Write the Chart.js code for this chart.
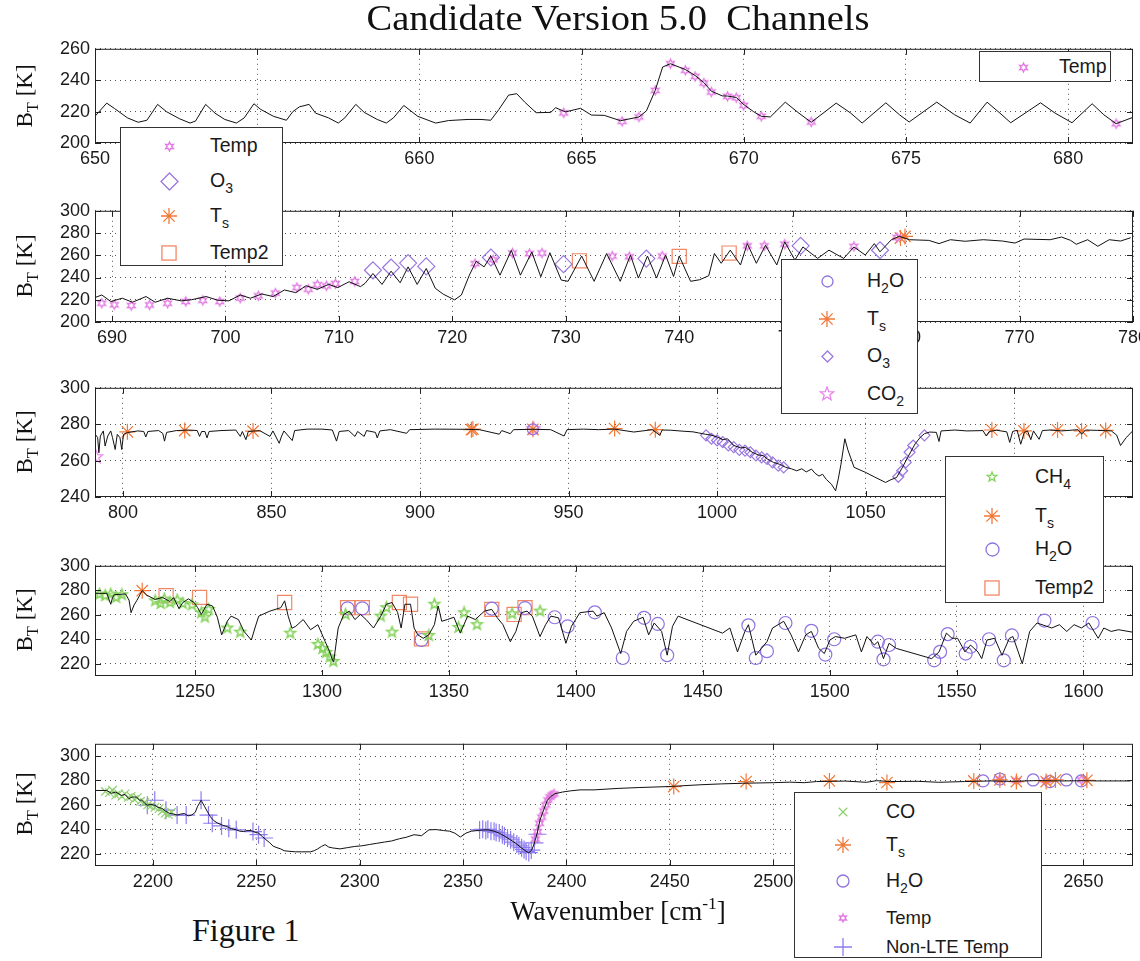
<!DOCTYPE html>
<html>
<head>
<meta charset="utf-8">
<title>Candidate Version 5.0 Channels</title>
<script src="https://cdn.jsdelivr.net/npm/chart.js@4.4.1/dist/chart.umd.min.js"></script>
<style>
  html, body { margin: 0; padding: 0; background: #fff; }
  body { width: 1140px; height: 961px; overflow: hidden; position: relative; font-family: "Liberation Sans", Arial, sans-serif; color: #1a1a1a; }
  canvas { position: absolute; left: 0; }
  .txt { position: absolute; white-space: nowrap; font-family: "Liberation Serif", "Times New Roman", serif; color: #111; line-height: 1; }
  .ylab { font-size: 23px; left: 24px; transform: translate(-50%, -50%) rotate(-90deg); }
  .leg { position: absolute; background: #fff; border: 1px solid #333; box-sizing: border-box; z-index: 5; }
  .leg .m { position: absolute; width: 0; height: 0; }
  .leg .t { position: absolute; font-size: 19.5px; line-height: 1; transform: translateY(-50%); white-space: nowrap; color: #1a1a1a; }
  sub { font-size: 72%; vertical-align: -0.4em; line-height: 0; }
  sup { font-size: 65%; vertical-align: 0.6em; line-height: 0; }
</style>
</head>
<body>
<canvas id="c1"></canvas>
<canvas id="c2"></canvas>
<canvas id="c3"></canvas>
<canvas id="c4"></canvas>
<canvas id="c5"></canvas>

<div class="txt" style="left:618px; top:1px; font-size:35px; transform:translateX(-50%) scaleX(1.1);">Candidate Version 5.0&nbsp; Channels</div>
<div class="txt ylab" style="top:96px;">B<sub>T</sub> [K]</div>
<div class="txt ylab" style="top:266px;">B<sub>T</sub> [K]</div>
<div class="txt ylab" style="top:442px;">B<sub>T</sub> [K]</div>
<div class="txt ylab" style="top:620px;">B<sub>T</sub> [K]</div>
<div class="txt ylab" style="top:804px;">B<sub>T</sub> [K]</div>
<div class="txt" style="left:618px; top:898px; font-size:27px; transform:translateX(-50%);">Wavenumber [cm<sup>-1</sup>]</div>
<div class="txt" style="left:192px; top:914px; font-size:32px;">Figure 1</div>

<script>
// ---------- data ----------
// panel 1: 650-682 cm-1
const p1XTicks = [650, 655, 660, 665, 670, 675, 680];
const p1YTicks = [200, 220, 240, 260];
const p1Spectrum = [[650.0,217],[650.36,225.4],[650.6,222],[651.0,216],[651.33,213.2],[651.6,214.5],[651.93,224.6],[652.2,220],[652.6,215.5],[652.93,212.7],[653.1,214],[653.41,224.6],[653.7,219],[654.0,215],[654.36,212.7],[654.6,216],[654.9,225],[655.1,221.5],[655.5,217],[655.9,214.5],[656.1,220],[656.3,223],[656.6,224.6],[656.8,219],[657.2,216],[657.5,212.7],[657.7,216],[658.04,224.6],[658.3,219.5],[658.7,215],[658.98,212.7],[659.2,216],[659.52,223.9],[659.95,217],[660.5,212.7],[660.9,214.3],[661.5,215],[661.9,215],[662.2,214.5],[662.45,221.3],[662.75,230.5],[663.0,231.4],[663.25,226],[663.6,219.3],[664.05,219.5],[664.2,222.5],[664.5,219.8],[664.97,222.1],[665.3,217.8],[665.7,217.6],[666.2,214.2],[666.77,216.6],[667.0,220.5],[667.27,233.5],[667.5,248.4],[667.74,250.5],[668.2,246.8],[668.5,243],[668.77,238.5],[669.0,233],[669.34,230],[669.5,229.9],[669.77,229],[670.0,224.5],[670.3,220],[670.54,217],[670.82,216.6],[671.28,226],[671.7,219],[672.08,213.2],[672.85,225.4],[673.3,219],[673.65,212.7],[674.38,225.6],[674.8,218],[675.1,213.4],[675.95,226],[676.5,218],[676.98,212.7],[677.5,226],[677.9,219],[678.23,212.9],[679.15,225.6],[679.6,219],[680.12,212.9],[680.74,225],[681.1,218],[681.48,212.3],[681.98,216.2]];
const p1Temp = [[664.45,219.2],[666.25,213.8],[666.77,216.6],[667.27,233.5],[667.74,250.5],[668.2,246.3],[668.5,242.4],[668.77,238.2],[669.0,232.5],[669.5,229.7],[669.77,228.9],[670.0,224.0],[670.54,217.0],[672.08,213.4],[681.48,212.3]];

// panel 2: 688-780 cm-1
const p2XTicks = [690, 700, 710, 720, 730, 740, 750, 760, 770, 780];
const p2YTicks = [200, 220, 240, 260, 280, 300];
const p2Spectrum = [[688.5,222],[689.1,224.3],[689.9,218.4],[690.9,221.4],[691.8,217.8],[693.0,222.9],[693.8,217.8],[694.9,221.4],[696.1,219],[697.0,220],[698.3,222.9],[699.3,219.6],[700.3,219],[701.3,224.3],[702.2,221.4],[703.2,225.2],[704.2,222.9],[705.2,228.8],[706.2,226.4],[707.1,232.6],[708.1,229.4],[709.1,233.8],[709.9,230.9],[710.9,236.2],[711.9,231.8],[712.3,234.7],[713.0,243.6],[713.8,233.8],[714.6,245.7],[715.4,235.3],[716.1,249.6],[716.9,233.8],[717.7,248.1],[718.5,230.3],[719.2,225],[720.2,219.9],[720.8,224.3],[721.5,242.1],[722.1,254.6],[722.8,249.6],[723.4,259.4],[724.2,242.1],[725.2,264.4],[726.0,242.1],[727.0,262.9],[727.8,240.7],[728.6,262.3],[729.6,237.7],[730.2,236.6],[731.4,259.3],[732.5,236.6],[733.6,261.6],[734.8,236.6],[735.7,260.2],[736.4,239.5],[737.2,259.3],[738.0,239.5],[738.8,260.2],[739.5,241],[740.0,259.3],[741.0,236.6],[741.8,238],[742.6,241.6],[743.1,261.6],[743.7,252.8],[744.5,264.6],[745.4,251.3],[746.0,270.5],[746.8,252.8],[747.6,269],[748.6,251.3],[749.3,272],[750.2,255.7],[750.9,267.5],[752.2,257.2],[753.2,264.6],[754.5,257.2],[755.4,267.5],[756.4,260.2],[757.2,270.5],[757.7,263.1],[758.7,274],[759.4,277],[760.3,274],[762.0,273.4],[762.9,270.5],[763.9,274],[765.2,272.6],[766.8,274],[768.5,272.8],[769.6,271],[770.4,274.6],[772.7,274],[773.7,276.4],[774.5,273.4],[775.0,269.9],[776.0,274],[776.9,268.1],[777.9,274],[778.9,272.8],[779.8,275.8]];
const p2Temp = [[689.1,216.9],[690.2,215.5],[691.7,214.8],[693.3,215.4],[694.9,216.9],[696.5,218.5],[698.0,219.5],[699.5,218.4],[701.3,221.5],[702.9,223.5],[704.4,226.0],[706.3,231.0],[707.3,229.5],[708.1,233.5],[708.9,232.5],[709.7,234.5],[711.4,236.5],[722.0,252.5],[723.6,256],[725.3,262.0],[726.8,261.5],[727.9,262.0],[734.1,259.3],[735.6,258.7],[738.5,259.3],[746.0,268.5],[747.5,268.5],[749.3,270.0],[755.4,268.0],[759.2,276.0]];
const p2O3 = [[713.0,246.5],[714.6,249],[716.1,253],[717.7,250],[723.4,258],[729.8,252],[737.1,257],[750.7,268.5],[757.7,264.5]];
const p2Ts = [[759.5,275.5],[759.9,277]];
const p2Temp2 = [[731.2,255],[740.0,259],[744.4,262]];

// panel 3: 790-1140 cm-1
const p3XTicks = [800, 850, 900, 950, 1000, 1050, 1100];
const p3YTicks = [240, 260, 280, 300];
const p3Spectrum = [[790.7,274.4],[791.5,272.6],[791.9,264.3],[792.4,273.5],[793.4,276.3],[794.0,268],[794.9,273.5],[795.9,276.3],[796.5,272.6],[797.4,266.1],[798.1,274.4],[799,272.6],[799.6,266.1],[800.2,274.4],[801.5,275.4],[803,275.8],[805,276.3],[807,276],[807.7,273],[808.4,276],[812,276.5],[813.4,275],[814,270.7],[814.7,275.5],[818,276.5],[822,276.8],[825,276.5],[825.8,273.3],[826.5,276],[827.6,276],[828.3,272.5],[829,276],[833,276.5],[838,276.8],[839.5,273.3],[840.2,276],[841.4,271.5],[842.2,276],[846,276.5],[849.5,273.3],[850.5,276.3],[852.6,269.5],[853.3,273],[854.2,276.3],[857,271],[857.8,276.5],[862,277.3],[867,277.3],[870.5,276.8],[871.9,270.7],[872.8,276],[876,276.5],[878.1,273.3],[879,276],[881.2,273.3],[882,276.5],[885,275.5],[885.6,272.5],[886.5,276.3],[890,277],[895.5,275],[896.5,277],[905,277.3],[915,277.2],[920,277],[926.7,274.5],[927.5,276.5],[930.4,274.8],[931.5,277],[938,277.2],[944,277],[948.5,273.5],[949.5,277],[955,277.3],[960,277],[965.5,277.3],[972,275.7],[978.2,277],[980.7,273.9],[981.5,276.8],[984.4,276.7],[988.2,276.2],[991.9,275.8],[993.8,275.2],[996,274.5],[998,274],[1000,273],[1002,271.5],[1003.5,272],[1005.6,268.3],[1008,267],[1009.5,267.3],[1011.8,264.6],[1014,263],[1015.5,262.8],[1016.8,261],[1019,259],[1021,258],[1023.1,256.3],[1025,255.5],[1026.8,254.4],[1028.5,255.5],[1030,253.8],[1031.8,255.3],[1033,253],[1034.3,251.5],[1035.5,252.5],[1036.8,249.6],[1038.5,247],[1039.9,243.4],[1040.8,250],[1041.7,258],[1043,272],[1044.0,266],[1044.9,261.9],[1046.1,256.3],[1050,253.5],[1053,251],[1056.7,248],[1058.5,249.5],[1060.4,250.7],[1062.3,256],[1064.2,261.9],[1066.7,269.3],[1068.5,273],[1069.8,274.8],[1071.6,275.7],[1073.8,275.5],[1074.7,270.5],[1075.4,276.3],[1080,276.8],[1084.1,276.3],[1089.5,276.5],[1090.6,273.5],[1091.6,276],[1094.1,276.7],[1097.5,275.8],[1098.5,270],[1099.5,276],[1101,276.7],[1102.2,269],[1103.4,275.5],[1104.5,276.3],[1105.6,271.5],[1106.5,276.3],[1108.4,271.7],[1109.5,276.5],[1112,276.8],[1116,276.3],[1121.5,277],[1122.7,274.5],[1124,276.8],[1128,276.6],[1132.7,276.3],[1134.5,274],[1135.8,268.3],[1137.7,272.6],[1139.9,276.3]];
const p3H2O = [[938.0,277.2]];
const p3Ts = [[801.5,275.8],[820.8,276.5],[843.8,276.2],[917.3,277],[917.8,277.3],[938,277.2],[965.5,277.6],[979.2,277],[1092.5,276.8],[1103.3,276.3],[1114.6,276.8],[1122.7,276.3],[1130.8,276.6]];
const p3O3 = [[996.3,273.9],[998.1,272],[1000,271.1],[1001.9,270.2],[1003.8,268.3],[1005.6,267.4],[1007.5,265.9],[1009.4,265.5],[1011.2,264.6],[1013.1,262.8],[1015,261.8],[1016.8,260.9],[1018.7,259],[1020.6,257.2],[1022.4,256.3],[1061.0,251.1],[1062.3,254.4],[1063.5,259],[1064.8,264.6],[1066,268.3],[1069.8,273.9]];
const p3CO2 = [[790.9,262],[938.2,277.5]];

// panel 4: 1210-1620 cm-1
const p4XTicks = [1250, 1300, 1350, 1400, 1450, 1500, 1550, 1600];
const p4YTicks = [220, 240, 260, 280, 300];
const p4Spectrum = [[1210.7,277.5],[1215.3,277.5],[1216.2,272],[1216.8,268.6],[1217.5,274],[1218.2,276.4],[1222.6,277],[1224,272],[1224.8,261.7],[1226,268],[1227,271.4],[1229.2,279.7],[1231,276],[1234.3,272.5],[1237.2,274.2],[1240.1,270.8],[1241.6,274],[1243.7,265],[1245.2,270],[1247.4,273],[1249.6,270],[1251,266],[1252.5,260.3],[1254.7,268.6],[1256.9,267.2],[1258.8,258],[1260.5,243.6],[1262.7,254.7],[1264.2,258.9],[1267.1,256.1],[1269.3,246.4],[1272.2,239.4],[1273.6,249.2],[1275.1,258.9],[1279.5,263],[1283.8,265.8],[1285.3,271.4],[1286.7,258.9],[1288.2,249],[1289.7,250.6],[1292.6,256.1],[1295.5,247.8],[1298.4,251.9],[1301.3,238],[1303,230],[1304.2,222.8],[1304.6,221.4],[1306.4,249.2],[1308.6,260.3],[1310.8,263],[1313,256.1],[1315.2,260.3],[1317.4,256.1],[1320.3,249.2],[1323.2,258.9],[1325.4,268.6],[1327.6,270],[1329.8,262],[1331.2,249.2],[1332.7,268.6],[1334.9,268.6],[1336.3,249.2],[1337.8,243.6],[1339.9,240.8],[1342.1,243.6],[1344.3,251.9],[1345.8,267.2],[1347.2,254.7],[1349.4,256.1],[1352,258],[1354.5,245],[1357.4,258.9],[1360.4,256.1],[1364,263],[1366.9,264.4],[1369.1,257.5],[1371.3,251.9],[1374.2,238],[1376.4,246.4],[1378.6,261.7],[1380.8,263],[1382.9,258.9],[1385.9,242.2],[1388.1,251.9],[1390.2,258.9],[1393.2,257.5],[1396.1,236.7],[1398.3,250.6],[1401.6,261.7],[1406.8,263],[1408.3,258.9],[1411.2,261.7],[1414.1,249.2],[1417.7,228.3],[1420,246.4],[1422.8,254.7],[1426.5,258],[1428.7,243.6],[1430.9,253.3],[1433.8,246.4],[1436,227],[1438.1,250.6],[1440.3,258.9],[1457.8,245],[1460.7,249.2],[1463.7,229.7],[1466.6,246.4],[1468,251.9],[1470.9,227],[1473.1,232.5],[1475.3,238],[1477.5,249.2],[1479.7,251.9],[1481.9,254.7],[1484.8,243.6],[1487.7,229.7],[1490.6,243.6],[1492.8,246.4],[1495.7,232.5],[1497.9,228.3],[1500.1,239.4],[1502.3,242.2],[1505.9,240.8],[1510.3,243.6],[1512.5,229.7],[1514.7,242.2],[1517.6,235.3],[1519,238],[1521.2,224.2],[1523.4,236.7],[1526.3,232.5],[1540.2,224.2],[1543.1,229.7],[1546,245],[1548.2,240.8],[1550.4,240.8],[1553.3,229.7],[1555.5,235.3],[1558.4,229.7],[1559.9,224.2],[1562,239.4],[1565,240.8],[1567.9,226.9],[1570.8,240.8],[1572.2,242.2],[1575.9,220],[1578.8,246.4],[1581.7,253.3],[1587.5,249.2],[1590.5,251.9],[1593.4,246.4],[1596.3,251.9],[1599.2,249.2],[1602.1,253.3],[1605.8,240.8],[1608,249.2],[1610.9,246.4],[1613.8,247.8],[1619.3,245.8]];
const p4CH4 = [[1212.4,276.9],[1214.6,275.6],[1216.8,276.9],[1218.9,274.2],[1221.2,276.4],[1234.3,271.4],[1236.5,269.2],[1237.9,272.8],[1240.1,270],[1243,272],[1245.2,269.2],[1248.8,268.1],[1252.5,261.7],[1253.9,258.1],[1255.4,264.4],[1262.7,249.2],[1267.8,245.8],[1287.5,245],[1298.4,235.8],[1300.2,232.5],[1301.6,229.2],[1303.1,225.6],[1304.5,221.9],[1309.3,260.3],[1323.2,258.9],[1325.4,265.8],[1327.6,245.8],[1342.1,243.1],[1344.3,268.6],[1353.8,249.7],[1356,261.7],[1361.1,252],[1374.9,260.8],[1385.9,263]];
const p4Ts = [[1229.2,279.7]];
const p4H2O = [[1310.1,265.3],[1315.9,265.3],[1339.2,239.4],[1366.9,265],[1380,265.5],[1391.7,258],[1396.8,250.6],[1407.5,262],[1418.5,224.7],[1426.9,257.5],[1432.3,252.5],[1436.0,227],[1468.0,251.4],[1470.9,224.7],[1475.3,230.3],[1482.6,253.3],[1492.8,246.9],[1498.3,227.5],[1501.8,240],[1519.0,238],[1521.2,223.6],[1523.4,235.3],[1541.2,222.8],[1543.5,229.7],[1546.5,244.2],[1553.6,228.3],[1555.5,233.9],[1562.8,240],[1568.6,222.8],[1571.8,243.1],[1584.6,255.3],[1603.6,253.3]];
const p4Temp2 = [[1238.6,275.6],[1251.8,274.2],[1285.3,270],[1310.1,265.8],[1315.9,265.8],[1330.5,270],[1334.9,268.6],[1339.2,240.3],[1366.9,264.4],[1375.7,260.3],[1380,265.8]];

// panel 5: 2172-2674 cm-1
const p5XTicks = [2200, 2250, 2300, 2350, 2400, 2450, 2500, 2550, 2600, 2650];
const p5YTicks = [220, 240, 260, 280, 300];
const p5Spectrum = [[2171.5,271.8],[2177.6,271.8],[2180,269.5],[2182,270.5],[2184.8,267.8],[2186.5,268.5],[2188.4,265.1],[2190,266.5],[2192,266.4],[2193.5,264],[2194.6,263.8],[2196,261.5],[2197.3,259.7],[2199,260.5],[2200.9,259.7],[2202.5,258],[2204.5,257.1],[2206,255],[2208.1,253],[2210,252.5],[2211.7,251.7],[2213.5,252.5],[2215.2,253],[2217,251],[2218.8,251.7],[2220.5,254],[2221.5,258.4],[2223.3,263.8],[2225.1,258.4],[2226.5,254],[2227.8,250.3],[2229.5,247],[2231.4,245],[2233.5,243.5],[2235.8,242.3],[2238,240.5],[2240.3,239.6],[2242,238.5],[2243.9,238.2],[2245.5,239],[2247.5,239],[2249.5,237.5],[2251.1,236.9],[2253,234],[2254.7,231.5],[2256.5,229],[2258.2,226.2],[2260,225],[2261.8,224],[2263.5,222.5],[2265.4,222.1],[2269,221.6],[2272,221.6],[2276.2,221.6],[2278,222.5],[2279.7,224],[2281.5,226],[2283.3,227.5],[2285,225.5],[2286.9,224.8],[2290.5,224],[2294,225],[2297.6,226],[2301,226.5],[2304.8,227.6],[2308,228.5],[2312,229.6],[2315.5,230.5],[2319.2,232.3],[2322.5,233.5],[2326.3,235.6],[2329.9,234.8],[2333.5,239.6],[2337,239.8],[2340.6,239],[2343.5,238.5],[2346,236.9],[2348.7,233.7],[2351.4,236.9],[2354,238.5],[2356.8,239],[2359.5,239.5],[2362.1,239.6],[2365,238.5],[2367.5,236.9],[2370,234.5],[2372.9,231.5],[2375.5,228.5],[2378.3,224.8],[2380.5,222],[2381.8,220.8],[2383.2,223],[2384.5,228.8],[2386,238],[2387.2,247.6],[2389,256],[2390.8,263.8],[2392.5,267],[2394.4,269.1],[2398,270.5],[2402,271.5],[2406.6,272.3],[2413.4,272.3],[2425,273.5],[2435,274.2],[2449.2,275],[2465,276.5],[2475,277.2],[2485.1,277.7],[2500,278.2],[2508,278.6],[2515,278.2],[2520.9,279.1],[2535,279.5],[2545,278.5],[2550,279.8],[2556.7,279.1],[2570,279.3],[2580,278.5],[2592.6,279.1],[2605,279.6],[2615,279.3],[2628.4,279.9],[2640,279.6],[2650,279.8],[2657.1,279.6],[2672.8,279.6]];
const p5CO = [[2177,271],[2179,270],[2180.5,272],[2182,268],[2183.5,269],[2185,267],[2186.5,269],[2188,266],[2189.5,267],[2191,264.5],[2192.5,266],[2194,263],[2196,262],[2197.5,260],[2199,259],[2201,258],[2203,257],[2204.5,255],[2206,253],[2207.5,252],[2209,254]];
const p5Ts = [[2451.9,275],[2486.9,279.1],[2527.2,279.6],[2555,278.3],[2597,279.6],[2609.6,280.4],[2617.6,279.1],[2632,279.1],[2636.5,280.4],[2651.7,280.1]];
const p5H2O = [[2601.5,279.6],[2609.6,281.2],[2625.7,280.4],[2633.8,279.1],[2641.8,280.4],[2649,279.6]];
const p5Temp = [[2385,232],[2386,238],[2387,245],[2388,250],[2389,255],[2390,260],[2391,264],[2392,266.5],[2393,268],[2394,269],[2609.6,281],[2617.6,280],[2632,280],[2649,280.5]];
const p5NonLTE = [[2197.3,259.7],[2200.9,263.8],[2206.3,255.7],[2211.7,251.7],[2216.1,251.7],[2223.3,263.8],[2226.9,251.7],[2228.7,245],[2233.2,242.8],[2236.7,240.9],[2240.3,239.6],[2248.4,238.2],[2251.1,235.6],[2253.8,232.9],[2358,239.5],[2359.5,240],[2361,239],[2362,240],[2363.5,238.5],[2365,238.5],[2366,237.5],[2367.5,237],[2369,235.5],[2370,234.5],[2371.5,233],[2373,231.5],[2374.5,229.5],[2376,228],[2377,226.5],[2378.3,225],[2379.5,223.5],[2380.5,222],[2381.8,221],[2383,223],[2384.5,229],[2386,236]];

// ---------- styling ----------
const col = {
  temp: '#e27ae2', o3: '#9b78e0', ts: '#f27838', temp2: '#f08866', h2o: '#9073e0',
  co2: '#ea84ea', ch4: '#88d460', co: '#90d070', nlte: '#8c7cf0'
};
const PLOT_LEFT = 95, PLOT_RIGHT = 1133, CANVAS_W = 1160;

function starImage(color, outer, points, inner, lw) {
  const size = Math.ceil(outer * 2 + 4);
  const c = document.createElement('canvas');
  c.width = size; c.height = size;
  const g = c.getContext('2d');
  g.strokeStyle = color; g.lineWidth = lw;
  g.beginPath();
  for (let i = 0; i < points * 2; i++) {
    const r = i % 2 ? outer * inner : outer;
    const a = -Math.PI / 2 + i * Math.PI / points;
    const px = size / 2 + r * Math.cos(a), py = size / 2 + r * Math.sin(a);
    if (i) g.lineTo(px, py); else g.moveTo(px, py);
  }
  g.closePath(); g.stroke();
  return c;
}
const tempImg = starImage(col.temp, 4.5, 6, 0.5, 1.3);
const co2Img = starImage(col.co2, 7, 5, 0.42, 1.2);
const ch4Img = starImage(col.ch4, 5.5, 5, 0.42, 1.6);

function lineSet(data) {
  return { data, showLine: true, borderColor: '#111', borderWidth: 1, pointRadius: 0, pointHoverRadius: 0 };
}
function markSet(data, style, color, radius, width) {
  return { data, showLine: false, pointStyle: style, pointRadius: radius, pointHoverRadius: radius,
    pointBorderColor: color, pointBackgroundColor: 'rgba(0,0,0,0)', pointBorderWidth: width || 1.2 };
}

// box + inward ticks like the MATLAB axes
const framePlugin = {
  id: 'frame',
  afterDraw(chart) {
    const { ctx, chartArea: a, scales } = chart;
    ctx.save();
    ctx.strokeStyle = '#222';
    ctx.lineWidth = 1;
    ctx.strokeRect(a.left + 0.5, a.top + 0.5, a.right - a.left - 1, a.bottom - a.top - 1);
    ctx.beginPath();
    scales.x.ticks.forEach(t => {
      const px = Math.round(scales.x.getPixelForValue(t.value)) + 0.5;
      ctx.moveTo(px, a.top); ctx.lineTo(px, a.top + 6);
      ctx.moveTo(px, a.bottom); ctx.lineTo(px, a.bottom - 6);
    });
    scales.y.ticks.forEach(t => {
      const py = Math.round(scales.y.getPixelForValue(t.value)) + 0.5;
      ctx.moveTo(a.left, py); ctx.lineTo(a.left + 6, py);
      ctx.moveTo(a.right, py); ctx.lineTo(a.right - 6, py);
    });
    ctx.stroke();
    ctx.restore();
  }
};

function makePanel(p) {
  const pad = 15, axisH = 30;
  const cv = document.getElementById(p.id);
  cv.width = CANVAS_W;
  cv.height = p.bottom - p.top + pad + axisH + 5;
  cv.style.top = (p.top - pad) + 'px';
  const tickFont = { family: '"Liberation Sans", Arial, sans-serif', size: 18 };
  const gridOpts = { color: '#555', lineWidth: 1, drawTicks: false };
  new Chart(cv, {
    type: 'scatter',
    data: { datasets: p.sets },
    options: {
      responsive: false, animation: false, devicePixelRatio: 1,
      layout: { padding: { left: 0, right: CANVAS_W - PLOT_RIGHT, top: pad, bottom: 5 } },
      plugins: { legend: { display: false }, tooltip: { enabled: false } },
      events: [],
      scales: {
        x: {
          type: 'linear', min: p.x[0], max: p.x[1],
          afterBuildTicks: s => { s.ticks = p.xt.map(v => ({ value: v })); },
          afterFit: s => { s.height = axisH; },
          grid: gridOpts, border: { display: false, dash: [1, 4] },
          ticks: { padding: 5, color: '#1a1a1a', font: tickFont, maxRotation: 0, autoSkip: false, callback: v => String(v) }
        },
        y: {
          type: 'linear', min: p.y[0], max: p.y[1],
          afterBuildTicks: s => { s.ticks = p.yt.map(v => ({ value: v })); },
          afterFit: s => { s.width = PLOT_LEFT; },
          grid: gridOpts, border: { display: false, dash: [1, 4] },
          ticks: { padding: 5, color: '#1a1a1a', font: tickFont, autoSkip: false, callback: v => String(v) }
        }
      }
    },
    plugins: [framePlugin]
  });
}

makePanel({ id: 'c1', top: 48, bottom: 143, x: [650, 682], y: [200, 260], xt: p1XTicks, yt: p1YTicks,
  sets: [lineSet(p1Spectrum), markSet(p1Temp, tempImg, col.temp, 4)] });

makePanel({ id: 'c2', top: 210, bottom: 322, x: [688.5, 780], y: [200, 300], xt: p2XTicks, yt: p2YTicks,
  sets: [lineSet(p2Spectrum), markSet(p2Temp, tempImg, col.temp, 4), markSet(p2O3, 'rectRot', col.o3, 8.5),
         markSet(p2Ts, 'star', col.ts, 8), markSet(p2Temp2, 'rect', col.temp2, 10)] });

makePanel({ id: 'c3', top: 387, bottom: 497, x: [790.6, 1140], y: [240, 300], xt: p3XTicks, yt: p3YTicks,
  sets: [lineSet(p3Spectrum), markSet(p3H2O, 'circle', col.h2o, 5.5), markSet(p3Ts, 'star', col.ts, 8),
         markSet(p3O3, 'rectRot', col.o3, 5.5), markSet(p3CO2, co2Img, col.co2, 6)] });

makePanel({ id: 'c4', top: 565, bottom: 676, x: [1210.6, 1619.5], y: [210, 300], xt: p4XTicks, yt: p4YTicks,
  sets: [lineSet(p4Spectrum), markSet(p4CH4, ch4Img, col.ch4, 5), markSet(p4Ts, 'star', col.ts, 8),
         markSet(p4H2O, 'circle', col.h2o, 6.5), markSet(p4Temp2, 'rect', col.temp2, 10)] });

makePanel({ id: 'c5', top: 743, bottom: 866, x: [2172, 2674], y: [210, 310], xt: p5XTicks, yt: p5YTicks,
  sets: [lineSet(p5Spectrum), markSet(p5CO, 'crossRot', col.co, 6), markSet(p5Ts, 'star', col.ts, 8),
         markSet(p5H2O, 'circle', col.h2o, 6), markSet(p5Temp, tempImg, col.temp, 4),
         markSet(p5NonLTE, 'cross', col.nlte, 9)] });

// ---------- legends (html boxes laid over the panels) ----------
function legendMarker(kind, color, r) {
  const s = 2 * r + 4, c = s / 2;
  let shape = '';
  const starPts = (n, inner) => {
    const pts = [];
    for (let i = 0; i < n * 2; i++) {
      const rr = i % 2 ? r * inner : r, a = -Math.PI / 2 + i * Math.PI / n;
      pts.push((c + rr * Math.cos(a)).toFixed(2) + ',' + (c + rr * Math.sin(a)).toFixed(2));
    }
    return `<polygon points="${pts.join(' ')}"/>`;
  };
  const d = r * Math.SQRT1_2;
  if (kind === 'circle') shape = `<circle cx="${c}" cy="${c}" r="${r}"/>`;
  else if (kind === 'diamond') shape = `<polygon points="${c},${c - r} ${c + r},${c} ${c},${c + r} ${c - r},${c}"/>`;
  else if (kind === 'square') shape = `<rect x="${c - d}" y="${c - d}" width="${2 * d}" height="${2 * d}"/>`;
  else if (kind === 'plus') shape = `<path d="M${c - r} ${c}H${c + r}M${c} ${c - r}V${c + r}"/>`;
  else if (kind === 'x') shape = `<path d="M${c - d} ${c - d}L${c + d} ${c + d}M${c - d} ${c + d}L${c + d} ${c - d}"/>`;
  else if (kind === 'asterisk') shape = `<path d="M${c - r} ${c}H${c + r}M${c} ${c - r}V${c + r}M${c - d} ${c - d}L${c + d} ${c + d}M${c - d} ${c + d}L${c + d} ${c - d}"/>`;
  else if (kind === 'star5') shape = starPts(5, 0.42);
  else if (kind === 'star6') shape = starPts(6, 0.5);
  return `<svg width="${s}" height="${s}" style="position:absolute;left:${-c}px;top:${-c}px" fill="none" stroke="${color}" stroke-width="1.3">${shape}</svg>`;
}

function buildLegend(box, rows) {
  const d = document.createElement('div');
  d.className = 'leg';
  d.style.left = box.x + 'px'; d.style.top = box.y + 'px';
  d.style.width = box.w + 'px'; d.style.height = box.h + 'px';
  rows.forEach(r => {
    const m = document.createElement('div');
    m.className = 'm';
    m.style.left = (box.mx - box.x) + 'px';
    m.style.top = (r.y - box.y) + 'px';
    m.innerHTML = legendMarker(r.kind, r.color, r.size);
    const t = document.createElement('div');
    t.className = 't';
    t.style.left = (box.tx - box.x) + 'px';
    t.style.top = (r.y - box.y) + 'px';
    if (r.fs) t.style.fontSize = r.fs + 'px';
    t.innerHTML = r.label;
    d.appendChild(m); d.appendChild(t);
  });
  document.body.appendChild(d);
}

buildLegend({ x: 979, y: 51, w: 132, h: 31, mx: 1022, tx: 1058 }, [
  { y: 66, kind: 'star6', color: col.temp, size: 4.5, label: 'Temp' }
]);
buildLegend({ x: 120, y: 127, w: 163, h: 139, mx: 168, tx: 209 }, [
  { y: 145, kind: 'star6', color: col.temp, size: 4.5, label: 'Temp' },
  { y: 180, kind: 'diamond', color: col.o3, size: 8.5, label: 'O<sub>3</sub>' },
  { y: 215, kind: 'asterisk', color: col.ts, size: 8, label: 'T<sub>s</sub>' },
  { y: 252, kind: 'square', color: col.temp2, size: 10, label: 'Temp2' }
]);
buildLegend({ x: 781, y: 259, w: 137, h: 155, mx: 826, tx: 866 }, [
  { y: 280, kind: 'circle', color: col.h2o, size: 5.5, label: 'H<sub>2</sub>O' },
  { y: 318, kind: 'asterisk', color: col.ts, size: 8, label: 'T<sub>s</sub>' },
  { y: 355, kind: 'diamond', color: col.o3, size: 5.5, label: 'O<sub>3</sub>' },
  { y: 393, kind: 'star5', color: col.co2, size: 7, label: 'CO<sub>2</sub>' }
]);
buildLegend({ x: 945, y: 456, w: 159, h: 147, mx: 991, tx: 1034 }, [
  { y: 476, kind: 'star5', color: col.ch4, size: 5, label: 'CH<sub>4</sub>' },
  { y: 515, kind: 'asterisk', color: col.ts, size: 8, label: 'T<sub>s</sub>' },
  { y: 548, kind: 'circle', color: col.h2o, size: 6.5, label: 'H<sub>2</sub>O' },
  { y: 587, kind: 'square', color: col.temp2, size: 10, label: 'Temp2' }
]);
buildLegend({ x: 794, y: 792, w: 248, h: 166, mx: 842, tx: 885 }, [
  { y: 811, kind: 'x', color: col.co, size: 6, label: 'CO' },
  { y: 844, kind: 'asterisk', color: col.ts, size: 8, label: 'T<sub>s</sub>' },
  { y: 880, kind: 'circle', color: col.h2o, size: 6, label: 'H<sub>2</sub>O' },
  { y: 917, kind: 'star6', color: col.temp, size: 4, label: 'Temp', fs: 18.5 },
  { y: 946, kind: 'plus', color: col.nlte, size: 9, label: 'Non-LTE Temp', fs: 18.5 }
]);
</script>
</body>
</html>
